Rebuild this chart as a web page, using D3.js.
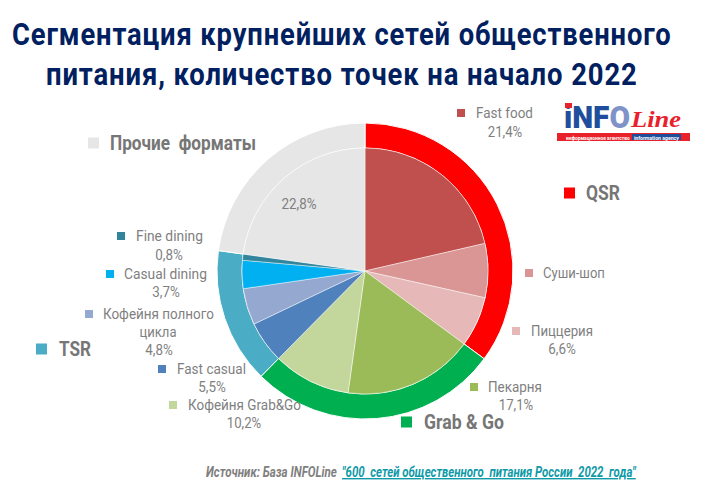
<!DOCTYPE html>
<html>
<head>
<meta charset="utf-8">
<script src="https://cdn.jsdelivr.net/npm/d3@7"></script>
<style>
  html, body { margin: 0; padding: 0; background: #fff; }
  svg { display: block; font-family: Roboto, sans-serif; }
</style>
</head>
<body>
<div id="chart"></div>
<script>
// inner ring
var categories = ["Fast food", "Суши-шоп", "Пиццерия", "Пекарня", "Кофейня Grab&Go", "Fast casual", "Кофейня полного цикла", "Casual dining", "Fine dining", "Прочие форматы"];
var shares = [21.4, 7.1, 6.6, 17.1, 10.2, 5.5, 4.8, 3.7, 0.8, 22.8];
var shareLabels = ["21,4%", "", "6,6%", "17,1%", "10,2%", "5,5%", "4,8%", "3,7%", "0,8%", "22,8%"];
var innerColors = ["#c0504d", "#d99694", "#e6b9b8", "#9bbb59", "#c3d69b", "#4f81bd", "#95a9d0", "#00b0f0", "#31859c", "#e6e6e6"];

// outer ring
var groups = ["QSR", "Grab & Go", "TSR", "Прочие  форматы"];
var groupShares = [35.1, 27.3, 14.8, 22.8];
var groupColors = ["#ff0000", "#00b050", "#4bacc6", "#e6e6e6"];

var titleLines = ["Сегментация крупнейших сетей общественного", "питания, количество точек на начало 2022"];

var width = 712, height = 498;
var cx = 365, cy = 271, innerR = 123, outerR = 148;

var svg = d3.select("#chart").append("svg")
  .attr("width", width)
  .attr("height", height);

// squeeze a text horizontally to width w (the source picture uses a condensed face)
function squeeze(sel, x, y, w) {
  var k = w / sel.node().getComputedTextLength();
  sel.attr("transform", "translate(" + x + "," + y + ") scale(" + k + ",1)");
  return sel;
}

function fitText(txt, size, weight) {
  return svg.append("text")
    .attr("dy", "0.35em")
    .style("font-size", size + "px")
    .style("font-weight", weight)
    .style("white-space", "pre")
    .style("fill", "#7f7f7f")
    .text(txt);
}

// title
squeeze(svg.append("text").style("font-size", "31px").style("font-weight", 700)
  .style("letter-spacing", "1px").style("fill", "#002060").text(titleLines[0]), 12, 45, 660);
squeeze(svg.append("text").style("font-size", "31px").style("font-weight", 700)
  .style("letter-spacing", "1px").style("fill", "#002060").text(titleLines[1]), 46, 85, 592);

// rings
var pie = d3.pie().sort(null).value(function (d) { return d; });
var root = svg.append("g").attr("transform", "translate(" + cx + "," + cy + ")");

var outerArc = d3.arc().innerRadius(innerR).outerRadius(outerR);
root.selectAll(".outer")
  .data(pie(groupShares))
  .enter().append("path")
  .attr("class", "outer")
  .attr("d", outerArc)
  .attr("fill", function (d, i) { return groupColors[i]; })
  .attr("stroke", "#fff")
  .attr("stroke-width", 1);

var innerArc = d3.arc().innerRadius(0).outerRadius(innerR);
root.selectAll(".inner")
  .data(pie(shares))
  .enter().append("path")
  .attr("class", "inner")
  .attr("d", innerArc)
  .attr("fill", function (d, i) { return innerColors[i]; })
  .attr("stroke", "#fff")
  .attr("stroke-opacity", 0.6)
  .attr("stroke-width", 0.75);

// small labels: swatch x, swatch y center, text x, text width, percent center x, percent y
var labelLayout = [
  [457, 113, 476, 57, 505, 132],
  [525, 273, 543, 62, null, null],
  [512, 331, 531, 62, 562, 349],
  [470, 387, 488, 54, 516, 405],
  [169, 405, 188, 113, 244, 423],
  [158, 369, 177, 69, 212, 387],
  [85, 314, 103, 111, 159, 350],
  [106, 274, 124, 83, 166, 292],
  [117, 236, 136, 67, 169, 255]
];

function smallText(x, y, txt, w) {
  return squeeze(fitText(txt, 15, 400), x, y, w);
}

function pctText(x, y, txt, w) {
  return smallText(x, y, txt, w).attr("text-anchor", "middle");
}

labelLayout.forEach(function (p, i) {
  svg.append("rect")
    .attr("x", p[0]).attr("y", p[1] - 4)
    .attr("width", 8).attr("height", 8)
    .attr("fill", innerColors[i]);
  var name = categories[i] == "Кофейня полного цикла" ? "Кофейня полного" : categories[i];
  smallText(p[2], p[1], name, p[3]);
  if (i == 6) pctText(158, 332, "цикла", 37);
  if (p[4] != null) pctText(p[4], p[5], shareLabels[i], shareLabels[i].length * 6.9);
});

pctText(299, 204, shareLabels[9], 35);

// big group labels: swatch x, swatch y center, text x, text width
var groupLayout = [
  [564, 193, 586, 34],
  [401, 422, 424, 80],
  [36, 349, 59, 32],
  [88, 143, 110, 146]
];

groupLayout.forEach(function (p, i) {
  svg.append("rect")
    .attr("x", p[0]).attr("y", p[1] - 5.5)
    .attr("width", 11).attr("height", 11)
    .attr("fill", groupColors[i]);
  squeeze(fitText(groups[i], 20, 700), p[2], p[1], p[3])
    .style("fill", "#767676");
});

// source line
squeeze(fitText("Источник: База INFOLine", 14, 700).style("font-style", "italic"), 206, 472, 131);
squeeze(fitText("\"600  сетей общественного  питания России  2022  года\"", 14, 700)
  .style("font-style", "italic")
  .style("fill", "#0f9aa8")
  .style("text-decoration", "underline"), 342, 472, 294);

// logo
var logo = svg.append("g");
var logoWord = logo.append("text")
  .style("font-size", "32px").style("font-weight", 900).style("fill", "#1f4e9c");
logoWord.append("tspan").text("iNF");
logoWord.append("tspan").style("fill", "#7f93c8").text("O");
squeeze(logoWord, 564, 128, 66);
logo.append("rect").attr("x", 565).attr("y", 103).attr("width", 7).attr("height", 5).attr("fill", "#e8212b");
squeeze(logo.append("text")
  .style("font-size", "24px").style("font-weight", 700).style("font-style", "italic")
  .style("font-family", "'Liberation Serif', serif").style("fill", "#e8212b")
  .text("Line"), 631, 127, 50);
logo.append("rect").attr("x", 557).attr("y", 133).attr("width", 133).attr("height", 8).attr("fill", "#e8212b");
logo.append("rect").attr("x", 632).attr("y", 134).attr("width", 49).attr("height", 6).attr("fill", "#1f4e9c");
squeeze(logo.append("text")
  .style("font-size", "4.5px").style("font-weight", 700).style("fill", "#fff")
  .text("информационное агентство"), 566, 140, 64);
squeeze(logo.append("text")
  .style("font-size", "4.5px").style("font-weight", 700).style("fill", "#fff")
  .text("information agency"), 634, 140, 45);
</script>
</body>
</html>
